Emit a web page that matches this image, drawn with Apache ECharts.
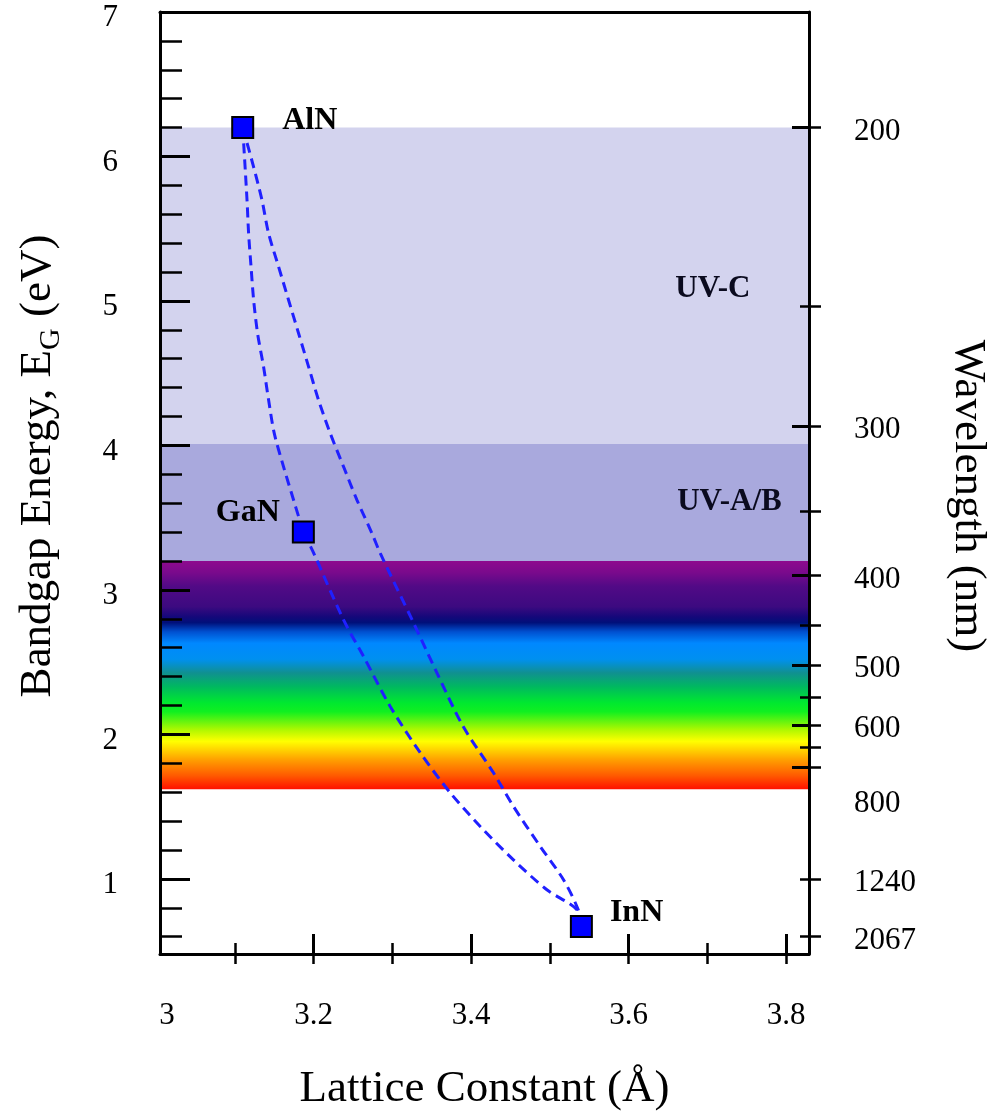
<!DOCTYPE html>
<html><head><meta charset="utf-8">
<script src="https://cdn.jsdelivr.net/npm/echarts@6/dist/echarts.min.js"></script>
<style>html,body{margin:0;padding:0;background:#fff;}#chart{width:1004px;height:1113px;}</style>
</head><body><div id="chart"></div>
<script>
// ---------- data ----------
const compoundNames = ['AlN', 'GaN', 'InN'];
const latticeConstant = [3.11, 3.187, 3.54];   // Å
const bandgap = [6.2, 3.40, 0.67];               // eV

// dashed alloy curves [a (Å), Eg (eV)]
const alganCurve = [[3.11,6.2],[3.1155,5.697],[3.1175,5.467],[3.1206,5.236],[3.1239,5.005],[3.1289,4.775],[3.1365,4.544],[3.1429,4.314],[3.1501,4.083],[3.1619,3.852],[3.1746,3.622],[3.1810,3.507],[3.187,3.40]];
const inganCurve = [[3.187,3.40],[3.2000,3.256],[3.2381,2.792],[3.2635,2.539],[3.2973,2.193],[3.3354,1.873],[3.3735,1.596],[3.4116,1.363],[3.4534,1.133],[3.4962,0.925],[3.5343,0.787],[3.54,0.67]];
const alinnCurve = [[3.11,6.2],[3.1239,5.927],[3.1345,5.697],[3.1429,5.467],[3.1556,5.236],[3.1683,5.005],[3.1810,4.775],[3.1937,4.544],[3.2063,4.314],[3.2212,4.083],[3.2381,3.852],[3.2551,3.622],[3.2741,3.392],[3.2846,3.254],[3.3269,2.772],[3.3566,2.426],[3.3900,2.054],[3.4284,1.734],[3.4538,1.501],[3.4877,1.225],[3.5173,0.994],[3.5359,0.787],[3.54,0.67]];

// spectral bands (eV)
const bandNames = ['UV-C', 'UV-A/B'];
const bandTop = [6.2, 4.01];
const bandBottom = [4.01, 3.2];
const bandLabelA = [3.707, 3.728];
const bandLabelE = [5.08, 3.61];
const visibleTop = 3.2;
const visibleBottom = 1.62;

// axes
const xMin = 3.005, xMax = 3.829;
const yMin = 0.48, yMax = 7;
const xTickMajor = [3.2, 3.4, 3.6, 3.8];
const xTickMinor = [3.1, 3.3, 3.5, 3.7];
const xLabelValues = [3.014, 3.2, 3.4, 3.6, 3.8];
const xTickLabels = ['3', '3.2', '3.4', '3.6', '3.8'];
const yTickMajor = [1, 2, 3, 4, 5, 6];
const yTickMinor = [0.6,0.8,1.2,1.4,1.6,1.8,2.2,2.4,2.6,2.8,3.2,3.4,3.6,3.8,4.2,4.4,4.6,4.8,5.2,5.4,5.6,5.8,6.2,6.4,6.6,6.8];
const yTickLabels = ['1','2','3','4','5','6','7'];
const yLabelValues = [1,2,3,4,5,6,7];
const hc = 1240; // eV·nm
const wlMajor = [200, 300, 400, 500, 600, 700];
const wlMinor = [250, 350, 450, 550, 650, 1240, 2067];
const wlLabels = [200, 300, 400, 500, 600, 800, 1240, 2067];

// ---------- chart ----------
const FONT = "'Liberation Serif','Times New Roman',serif";
const spectrumColors = [
  [0.00,'#8e0a8e'],[0.05,'#7a0a8c'],[0.11,'#520a86'],[0.20,'#3c0a80'],[0.245,'#14087a'],
  [0.27,'#00107a'],[0.31,'#0050d0'],[0.36,'#0088ff'],[0.43,'#0090f0'],[0.49,'#109090'],
  [0.55,'#00b860'],[0.62,'#00e830'],[0.66,'#10f020'],[0.74,'#b0f800'],[0.79,'#ffff00'],
  [0.87,'#ffa000'],[0.94,'#ff5a00'],[1.00,'#ff1000']
];
const bandColors = ['#d3d3ee', '#a9a9dd'];

const chart = echarts.init(document.getElementById('chart'), null, {renderer: 'canvas'});

const baseX = {type: 'value', min: xMin, max: xMax, position: 'bottom', z: 10,
  splitLine: {show: false}, axisLine: {show: false, onZero: false}, axisLabel: {show: false}};
const baseY = {type: 'value', min: yMin, max: yMax, z: 10,
  splitLine: {show: false}, axisLine: {show: false, onZero: false}, axisLabel: {show: false}};

const labelFont = {fontFamily: FONT, fontSize: 31, color: '#000'};

const option = {
  animation: false,
  backgroundColor: '#fff',
  grid: {left: 160, right: 195, top: 12, bottom: 159, containLabel: false, outerBoundsMode: 'none'},
  xAxis: [
    Object.assign({}, baseX, {
      axisLine: {show: true, onZero: false, lineStyle: {color: '#000', width: 3}},
      axisTick: {show: true, inside: true, length: 20, lineStyle: {color: '#000', width: 3}, customValues: xTickMajor},
      axisLabel: Object.assign({show: true, margin: 46, customValues: xLabelValues,
        formatter: v => xTickLabels[xLabelValues.findIndex(t => Math.abs(t - v) < 1e-6)]}, labelFont),
      name: 'Lattice Constant (Å)', nameLocation: 'middle', nameGap: 113,
      nameTextStyle: {fontFamily: FONT, fontSize: 45, color: '#000'}
    }),
    Object.assign({}, baseX, {axisTick: {show: true, inside: true, length: 11, lineStyle: {color: '#000', width: 2.5}, customValues: xTickMinor}}),
    Object.assign({}, baseX, {axisTick: {show: true, inside: false, length: 10, lineStyle: {color: '#000', width: 2.5}, customValues: xTickMajor.concat(xTickMinor)}}),
    Object.assign({}, baseX, {position: 'top', axisLine: {show: true, onZero: false, lineStyle: {color: '#000', width: 3}}, axisTick: {show: false}})
  ],
  yAxis: [
    Object.assign({}, baseY, {
      position: 'left',
      axisLine: {show: true, onZero: false, lineStyle: {color: '#000', width: 3}},
      axisTick: {show: true, inside: true, length: 30, lineStyle: {color: '#000', width: 3}, customValues: yTickMajor},
      axisLabel: Object.assign({show: true, margin: 42, verticalAlign: 'top', lineHeight: 12, customValues: yLabelValues,
        formatter: v => yTickLabels[yLabelValues.findIndex(t => Math.abs(t - v) < 1e-6)]}, labelFont),
      name: 'Bandgap Energy, E{sub|G} (eV)', nameLocation: 'middle', nameGap: 94,
      nameTextStyle: {fontFamily: FONT, fontSize: 45, color: '#000', padding: [0, 0, 0, 34],
        rich: {sub: {fontFamily: FONT, fontSize: 30, color: '#000', padding: [26, 0, 0, 0]}}}
    }),
    Object.assign({}, baseY, {position: 'left',
      axisTick: {show: true, inside: true, length: 22, lineStyle: {color: '#000', width: 2.5}, customValues: yTickMinor}}),
    Object.assign({}, baseY, {
      position: 'right',
      axisLine: {show: true, onZero: false, lineStyle: {color: '#000', width: 3}},
      axisTick: {show: true, inside: true, length: 17, lineStyle: {color: '#000', width: 3}, customValues: wlMajor.map(w => hc / w)},
      axisLabel: Object.assign({show: true, margin: 45, verticalAlign: 'top', lineHeight: 8, customValues: wlLabels.map(w => hc / w),
        formatter: v => String(wlLabels.find(w => Math.abs(hc / w - v) < 1e-6))}, labelFont),
      name: 'Wavelength (nm)', nameLocation: 'middle', nameGap: 136, nameRotate: -90,
      nameTextStyle: {fontFamily: FONT, fontSize: 45, color: '#000', padding: [0, 0, 0, 26]}
    }),
    Object.assign({}, baseY, {position: 'right',
      axisTick: {show: true, inside: true, length: 9, lineStyle: {color: '#000', width: 2.5}, customValues: wlMinor.map(w => hc / w)}}),
    Object.assign({}, baseY, {position: 'right',
      axisTick: {show: true, inside: false, length: 12, lineStyle: {color: '#000', width: 2.5}, customValues: wlMajor.concat(wlMinor).map(w => hc / w)}})
  ],
  series: [
    {
      type: 'line', data: [], z: 1, silent: true,
      markArea: {
        silent: true,
        label: {show: false},
        data: bandNames.map((n, i) => [
          {yAxis: bandTop[i], itemStyle: {color: bandColors[i], opacity: 1}},
          {yAxis: bandBottom[i]}
        ]).concat([[
          {yAxis: visibleTop, itemStyle: {opacity: 1, color: new echarts.graphic.LinearGradient(0, 0, 0, 1,
            spectrumColors.map(s => ({offset: s[0], color: s[1]})))}},
          {yAxis: visibleBottom}
        ]])
      }
    },
    ...[alganCurve, inganCurve, alinnCurve].map(c => ({
      type: 'line', data: c, z: 3, symbol: 'none', smooth: 0.3, silent: true,
      lineStyle: {color: '#2020ff', width: 3, type: [10, 6]}
    })),
    {
      type: 'scatter', z: 5, symbol: 'rect', symbolSize: 21, silent: true,
      itemStyle: {color: '#0000ff', borderColor: '#000', borderWidth: 2, opacity: 1},
      label: {show: true, formatter: '{b}', fontFamily: FONT, fontSize: 32, fontWeight: 'bold', color: '#000'},
      data: compoundNames.map((n, i) => ({
        name: n, value: [latticeConstant[i], bandgap[i]],
        label: [
          {position: 'right', distance: 28, offset: [0, -7]},
          {position: 'left', distance: 12, offset: [0, -19]},
          {position: 'right', distance: 17, offset: [0, -14]}
        ][i]
      }))
    },
    {
      type: 'scatter', z: 4, symbolSize: 1, silent: true,
      itemStyle: {color: 'rgba(0,0,0,0)', opacity: 1},
      label: {show: true, position: 'inside', formatter: '{b}', fontFamily: FONT, fontSize: 31, fontWeight: 'bold', color: '#0a0a1e'},
      data: bandNames.map((n, i) => ({name: n, value: [bandLabelA[i], bandLabelE[i]]}))
    }
  ]
};
chart.setOption(option);
</script></body></html>
